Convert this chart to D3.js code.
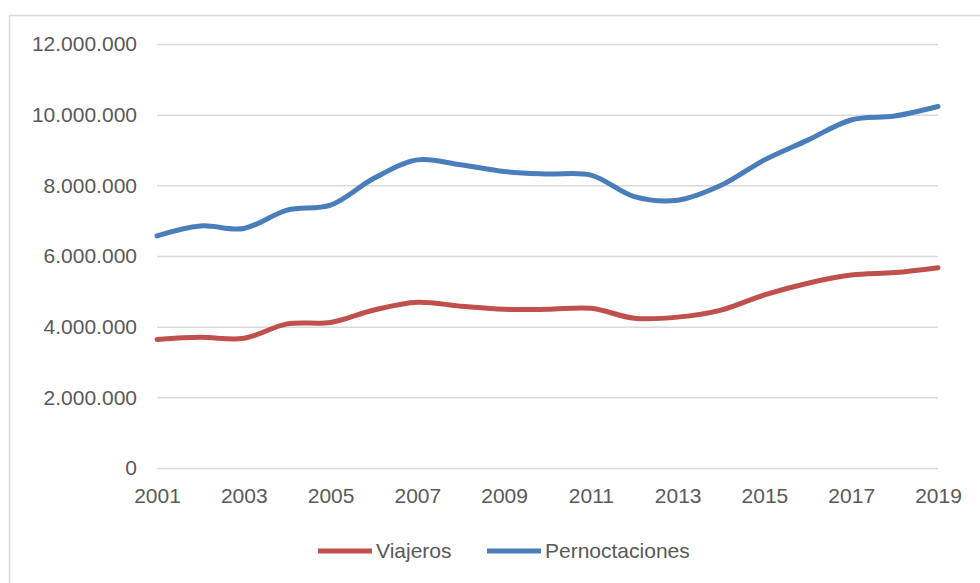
<!DOCTYPE html>
<html>
<head>
<meta charset="utf-8">
<script src="https://cdn.jsdelivr.net/npm/d3@7"></script>
<style>
  body { margin: 0; background: #fff; }
  text { font-family: "Liberation Sans", Arial, sans-serif; fill: #595959; }
</style>
</head>
<body>
<div id="chart"></div>
<script>
var svgWidth = 980, svgHeight = 583;
var margin = { top: 44, right: 42, bottom: 115, left: 157 };
var width = svgWidth - margin.left - margin.right;
var height = svgHeight - margin.top - margin.bottom;

// data
var years = [2001, 2002, 2003, 2004, 2005, 2006, 2007, 2008, 2009, 2010,
             2011, 2012, 2013, 2014, 2015, 2016, 2017, 2018, 2019];
var viajeros = [3640000, 3700000, 3670000, 4080000, 4120000, 4470000, 4690000, 4580000, 4490000, 4490000,
                4520000, 4240000, 4270000, 4470000, 4900000, 5230000, 5460000, 5530000, 5670000];
var pernoctaciones = [6570000, 6850000, 6780000, 7300000, 7440000, 8200000, 8720000, 8580000, 8390000, 8320000,
                      8290000, 7680000, 7580000, 8000000, 8720000, 9280000, 9850000, 9960000, 10230000];
var yTicks = [0, 2000000, 4000000, 6000000, 8000000, 10000000, 12000000];
var xTicks = [2001, 2003, 2005, 2007, 2009, 2011, 2013, 2015, 2017, 2019];
var seriesNames = ["Viajeros", "Pernoctaciones"];
var colors = ["#C0504D", "#4A7EBB"];

var svg = d3.select("#chart").append("svg")
    .attr("width", svgWidth)
    .attr("height", svgHeight);

// chart frame
svg.append("rect")
    .attr("x", 9.5).attr("y", 15.5)
    .attr("width", svgWidth + 20).attr("height", svgHeight + 20)
    .attr("fill", "none")
    .attr("stroke", "#D9D9D9")
    .attr("stroke-width", 1.5);

var g = svg.append("g")
    .attr("transform", "translate(" + margin.left + "," + margin.top + ")");

var xScale = d3.scaleLinear().domain([2001, 2019]).range([0, width]);
var yScale = d3.scaleLinear().domain([0, 12000000]).range([height, 0]);

var fmt = function(d) { return d3.format(",")(d).replace(/,/g, "."); };

// gridlines + y labels
g.append("g")
    .call(d3.axisLeft(yScale).tickValues(yTicks).tickSize(-width).tickFormat(fmt).tickPadding(20))
    .call(function(a) {
        a.select(".domain").remove();
        a.selectAll(".tick line").attr("stroke", "#D9D9D9").attr("stroke-width", 1.5);
        a.selectAll(".tick text").attr("fill", "#595959").style("font-size", "21px")
            .style("font-family", "'Liberation Sans', Arial, sans-serif");
    });

// x labels
g.append("g")
    .attr("transform", "translate(0," + height + ")")
    .call(d3.axisBottom(xScale).tickValues(xTicks).tickSize(0).tickFormat(d3.format("d")).tickPadding(20))
    .call(function(a) {
        a.select(".domain").remove();
        a.selectAll(".tick text").attr("fill", "#595959").style("font-size", "21px")
            .style("font-family", "'Liberation Sans', Arial, sans-serif");
    });

var line = d3.line()
    .x(function(d, i) { return xScale(years[i]); })
    .y(function(d) { return yScale(d); })
    .curve(d3.curveCatmullRom.alpha(0.5));

[viajeros, pernoctaciones].forEach(function(s, k) {
    g.append("path")
        .datum(s)
        .attr("d", line)
        .attr("fill", "none")
        .attr("stroke", colors[k])
        .attr("stroke-width", 5)
        .attr("stroke-linecap", "round");
});

// legend
var legendX = [318, 487];
var legend = svg.append("g").attr("transform", "translate(0,551)");
seriesNames.forEach(function(name, i) {
    legend.append("line")
        .attr("x1", legendX[i]).attr("x2", legendX[i] + 54)
        .attr("y1", 0).attr("y2", 0)
        .attr("stroke", colors[i])
        .attr("stroke-width", 5);
    legend.append("text")
        .attr("x", legendX[i] + 58)
        .attr("y", 0)
        .attr("dy", "0.35em")
        .style("font-size", "21px")
        .text(name);
});
</script>
</body>
</html>
